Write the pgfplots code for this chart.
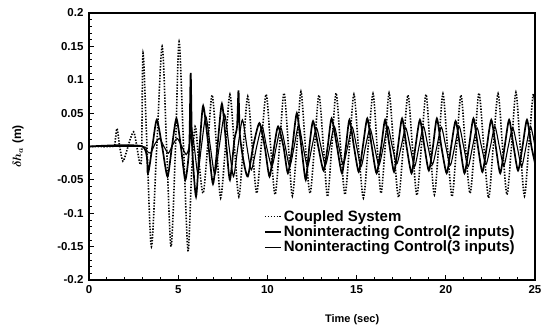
\documentclass[border=0pt]{standalone}
\usepackage{amsmath}
\usepackage{fontspec}
\setmainfont{Liberation Sans}
\usepackage{pgfplots}
\pgfplotsset{compat=1.18}
\begin{document}
\begin{tikzpicture}
\begin{axis}[
  scale only axis,
  width=446pt, height=267pt,
  xmin=0, xmax=25, ymin=-0.2, ymax=0.2,
  xtick={0,5,10,15,20,25},
  ytick={-0.2,-0.15,-0.1,-0.05,0,0.05,0.1,0.15,0.2},
  yticklabels={-0.2,-0.15,-0.1,-0.05,0,0.05,0.1,0.15,0.2},
  minor x tick num=4, minor y tick num=4,
  tick pos=left, tick align=inside,
  major tick length=5pt, minor tick length=3pt,
  tick style={black, line width=0.8pt},
  axis line style={line width=1.1pt},
  ticklabel style={font=\fontsize{11.5}{13}\selectfont\bfseries},
  yticklabel style={xshift=-2pt},
  xticklabel style={yshift=-2pt},
  /pgf/number format/assume math mode=true,
  xlabel={Time (sec)},
  xlabel style={at={(axis description cs:0.59,-0.15)}, anchor=center, font=\fontsize{11}{13}\selectfont\bfseries},
  ylabel={$\boldsymbol{\delta h_{a}}$ (m)},
  ylabel style={at={(axis description cs:-0.159,0.5)}, anchor=center, font=\fontsize{12}{14}\selectfont\bfseries},
  legend style={at={(0.39,0.273)}, anchor=north west, draw=none, fill=none,
    font=\fontsize{15}{17}\selectfont\bfseries, inner sep=1pt, row sep=-1pt,
    cells={anchor=west}},
  legend cell align=left,
  legend image code/.code={\draw[#1] (0pt,0pt) -- (16pt,0pt);},
]
\addplot[black, line width=1.6pt, dash pattern=on 1.4pt off 1.5pt, smooth, tension=0.5] coordinates {
(0,0) (1.3,0) (1.45,0.005) (1.57,0.027) (1.72,0.0) (1.9,-0.022) (2.1,-0.008) (2.3,0.01) (2.5,0.022) (2.65,0.005) (2.85,-0.025) (2.95,-0.01) (3.03,0.14) (3.25,0.0) (3.5,-0.15) (3.8,0.0) (4.1,0.15) (4.35,0.0) (4.6,-0.15) (4.85,0.0) (5.05,0.157) (5.3,0.0) (5.55,-0.156) (5.75,-0.04) (5.95,0.03) (6.15,-0.02) (6.4,-0.07) (6.65,0.0) (6.9,0.077) (7.15,0.0) (7.38,-0.077) (7.65,0)
(7.9,0.078) (8.15,0) (8.4,-0.075) (8.65,0) (8.9,0.075) (9.15,0) (9.4,-0.07) (9.65,0) (9.93,0.078) (10.18,0) (10.43,-0.072) (10.68,0) (10.93,0.08) (11.18,0) (11.4,-0.074) (11.65,0) (11.88,0.082) (12.13,0) (12.39,-0.07) (12.64,0) (12.89,0.077) (13.14,0) (13.37,-0.075) (13.61,0) (13.85,0.08) (14.1,0) (14.35,-0.072) (14.6,0) (14.85,0.078) (15.1,0) (15.38,-0.077) (15.65,0) (15.92,0.079) (16.15,0) (16.37,-0.07) (16.6,0) (16.82,0.08) (17.08,0) (17.35,-0.076) (17.62,0) (17.88,0.077) (18.13,0) (18.38,-0.073) (18.63,0) (18.89,0.078) (19.12,0) (19.36,-0.072) (19.6,0) (19.84,0.079) (20.09,0) (20.35,-0.075) (20.6,0) (20.85,0.077) (21.1,0) (21.36,-0.07) (21.61,0) (21.86,0.08) (22.13,0) (22.4,-0.077) (22.66,0) (22.93,0.079) (23.18,0) (23.43,-0.072) (23.68,0) (23.93,0.081) (24.17,0) (24.41,-0.074) (24.65,0) (24.89,0.077) (25,0.06)
};
\addlegendentry{Coupled System}
\addplot[black, line width=1.7pt, smooth, tension=0.4] coordinates {
(0,0) (3.0,0) (3.3,-0.04) (3.55,0) (3.8,0.04) (4.1,0) (4.4,-0.045) (4.65,0) (4.9,0.042) (5.15,0) (5.4,-0.05) (5.62,0) (5.7,0.11) (5.78,0.0) (6.0,-0.075) (6.2,0) (6.4,0.061) (6.7,0) (6.95,-0.056) (7.2,0) (7.45,0.064) (7.7,0) (7.9,-0.05) (8.15,0.01) (8.3,0.03) (8.38,0.084) (8.45,0.02) (8.65,-0.02) (8.9,-0.045) (9.2,0) (9.55,0.035) (9.85,0) (10.12,-0.045) (10.38,0) (10.6,0.03) (10.9,0) (11.15,-0.04) (11.4,0) (11.65,0.05) (11.9,0) (12.15,-0.05) (12.35,0) (12.56,0.038) (12.85,0) (13.15,-0.036) (13.38,0) (13.6,0.042) (13.9,0) (14.18,-0.04) (14.4,0) (14.6,0.04) (14.85,0) (15.12,-0.038) (15.35,0) (15.6,0.042) (15.85,0) (16.12,-0.04) (16.38,0) (16.6,0.04) (16.85,0) (17.1,-0.038) (17.32,0) (17.55,0.042) (17.8,0) (18.08,-0.04) (18.3,0) (18.55,0.04) (18.8,0) (19.05,-0.036) (19.28,0) (19.5,0.042) (19.75,0) (20.05,-0.04) (20.3,0) (20.55,0.038) (20.8,0) (21.05,-0.04) (21.3,0) (21.55,0.042) (21.8,0) (22.05,-0.038) (22.3,0) (22.55,0.04) (22.8,0) (23.05,-0.04) (23.3,0) (23.55,0.04) (23.8,0) (24.05,-0.036) (24.3,0) (24.55,0.04) (24.8,0) (25,-0.025)
};
\addlegendentry{Noninteracting Control(2 inputs)}
\addplot[black, line width=1.1pt, smooth, tension=0.4] coordinates {
(0,0) (3.0,0) (3.2,-0.006) (3.45,-0.01) (3.7,0.004) (3.95,0.012) (4.2,0.0) (4.45,-0.01) (4.7,0.003) (4.95,0.012) (5.2,0.0) (5.45,-0.012) (5.62,0.0) (5.75,0.025) (5.9,0.0) (6.1,-0.04) (6.3,0.0) (6.55,0.045) (6.8,0.0) (7.05,-0.042) (7.3,0.0) (7.6,0.048) (7.85,0.0) (8.1,-0.045) (8.35,0.0) (8.6,0.04) (8.85,0.0) (9.1,-0.035) (9.4,0.0) (9.7,0.03) (9.95,0) (10.25,-0.03) (10.5,0) (10.75,0.028) (11,0) (11.25,-0.03) (11.5,0) (11.75,0.032) (12,0) (12.25,-0.03) (12.5,0) (12.75,0.028) (13,0) (13.25,-0.028) (13.5,0) (13.75,0.03) (14,0) (14.25,-0.027) (14.5,0) (14.75,0.029) (15,0) (15.25,-0.03) (15.5,0) (15.75,0.027) (16,0) (16.25,-0.028) (16.5,0) (16.75,0.03) (17,0) (17.25,-0.026) (17.5,0) (17.75,0.028) (18,0) (18.25,-0.03) (18.5,0) (18.75,0.03) (19,0) (19.25,-0.027) (19.5,0) (19.75,0.029) (20,0) (20.25,-0.028) (20.5,0) (20.75,0.03) (21,0) (21.25,-0.03) (21.5,0) (21.75,0.028) (22,0) (22.25,-0.027) (22.5,0) (22.75,0.03) (23,0) (23.25,-0.029) (23.5,0) (23.75,0.028) (24,0) (24.25,-0.03) (24.5,0) (24.75,0.03) (25,0.0)
};
\addlegendentry{Noninteracting Control(3 inputs)}
\draw[line width=2pt] (rel axis cs:0,0) -- (rel axis cs:0,1);
\draw[line width=2pt] (rel axis cs:0,0) -- (rel axis cs:1,0);
\end{axis}
\path ([xshift=-89pt,yshift=-47pt]current axis.south west) rectangle ([xshift=17pt,yshift=13pt]current axis.north east);
\end{tikzpicture}
\end{document}
